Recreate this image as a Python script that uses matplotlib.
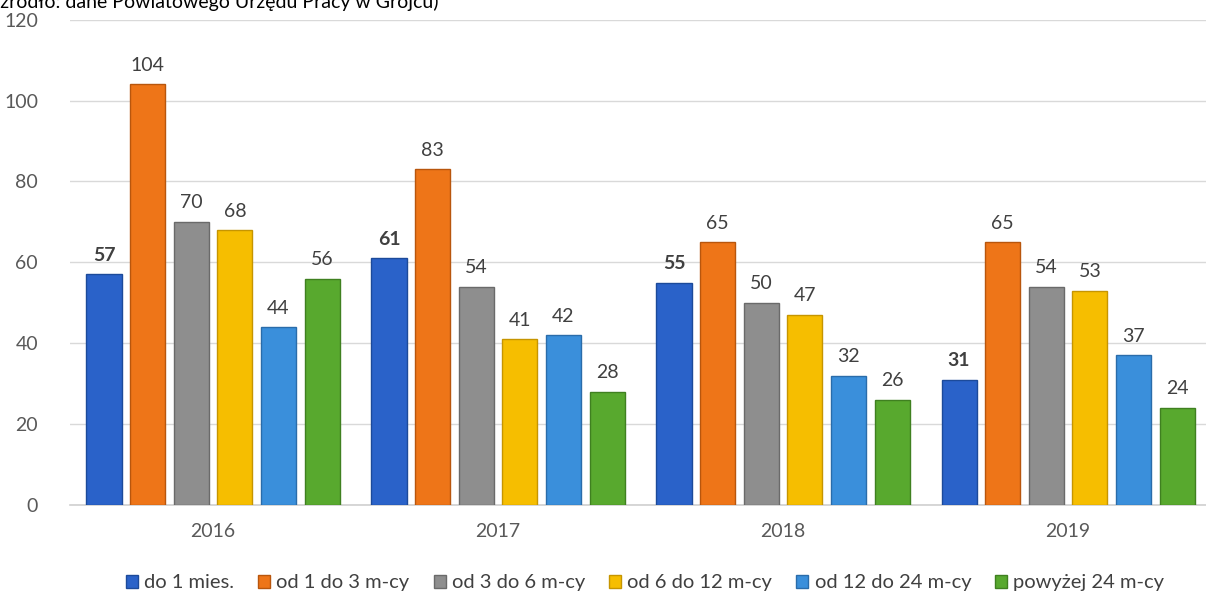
import numpy as np
import matplotlib
matplotlib.use("Agg")
import matplotlib.pyplot as plt
from matplotlib.patches import Patch

plt.rcParams["font.family"] = ["Lato", "DejaVu Sans"]

years = ["2016", "2017", "2018", "2019"]
series_names = ["do 1 mies.", "od 1 do 3 m-cy", "od 3 do 6 m-cy",
                "od 6 do 12 m-cy", "od 12 do 24 m-cy", "powyżej 24 m-cy"]
do_1 = [57, 61, 55, 31]
od_1_3 = [104, 83, 65, 65]
od_3_6 = [70, 54, 50, 54]
od_6_12 = [68, 41, 47, 53]
od_12_24 = [44, 42, 32, 37]
pow_24 = [56, 28, 26, 24]
values = [do_1, od_1_3, od_3_6, od_6_12, od_12_24, pow_24]

colors = ["#2A62C9", "#EE7518", "#8E8E8E", "#F6BE00", "#3A8FDB", "#58A92E"]
edges = ["#1C4A9A", "#B8560D", "#6A6A6A", "#C69500", "#2A6CAA", "#3F8020"]

fig = plt.figure(figsize=(12.06, 5.99), dpi=100)
ax = fig.add_axes([0.058, 0.157, 0.942, 0.81])

x = np.arange(len(years))
pitch = 0.153
width = 0.123
for i, (vals, c, ec) in enumerate(zip(values, colors, edges)):
    pos = x + (i - 2.5) * pitch
    ax.bar(pos, vals, width=width, color=c, edgecolor=ec, linewidth=1.0, zorder=3)
    for px, v in zip(pos, vals):
        ax.text(px, v + 2.6, str(v), ha="center", va="bottom", fontsize=14,
                color="#404040", fontweight="bold" if i == 0 else "normal")

ax.set_ylim(0, 120)
ax.set_yticks(np.arange(0, 121, 20))
ax.set_xlim(-0.502, 3.484)
ax.set_xticks(x)
ax.set_xticklabels(years)
ax.tick_params(axis="both", length=0, labelsize=14, labelcolor="#595959")
ax.tick_params(axis="x", pad=13)
ax.tick_params(axis="y", pad=23)
ax.grid(axis="y", color="#D9D9D9", linewidth=1.0, zorder=0)
for s in ["top", "right", "left"]:
    ax.spines[s].set_visible(False)
ax.spines["bottom"].set_color("#D0D0D0")
ax.spines["bottom"].set_linewidth(1.2)

handles = [Patch(facecolor=c, edgecolor=ec) for c, ec in zip(colors, edges)]
fig.legend(handles, series_names, loc="center", bbox_to_anchor=(0.535, 0.027),
           ncol=6, frameon=False, fontsize=14.5, handlelength=0.6, handleheight=0.6,
           handletextpad=0.3, columnspacing=1.2, labelcolor="#404040")

fig.text(-0.004, 0.997, "(źródło: dane Powiatowego Urzędu Pracy w Grójcu)",
         ha="left", va="center", fontsize=14, color="#000000")

fig.savefig("out.png", dpi=100)
